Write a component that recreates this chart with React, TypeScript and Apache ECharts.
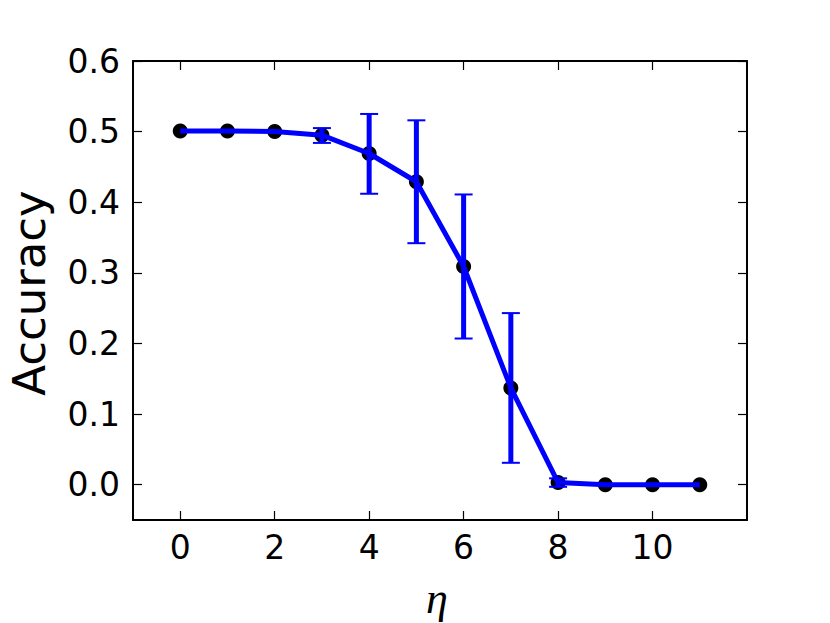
import React, { useEffect, useRef } from "react";
import * as echarts from "echarts";

const etaValues = [0, 1, 2, 3, 4, 5, 6, 7, 8, 9, 10, 11];
const accuracy = [0.501, 0.501, 0.5, 0.495, 0.469, 0.429, 0.309, 0.137, 0.003, 0.0, 0.0, 0.0];
const errLow = [0.501, 0.501, 0.5, 0.484, 0.412, 0.342, 0.207, 0.031, -0.003, 0.0, 0.0, 0.0];
const errHigh = [0.501, 0.501, 0.5, 0.505, 0.525, 0.516, 0.411, 0.243, 0.009, 0.0, 0.0, 0.0];
const xTicks = [0, 2, 4, 6, 8, 10];
const yTicks = [0, 0.1, 0.2, 0.3, 0.4, 0.5, 0.6];

const BLUE = "#0000ff";
const TICK_FONT = "'DejaVu Sans', sans-serif";

export default function App() {
  const ref = useRef<HTMLDivElement>(null);
  useEffect(() => {
    if (!ref.current) return;
    const chart = echarts.init(ref.current, null, { renderer: "svg" });
    const pts = etaValues.map((x, i) => [x, accuracy[i]]);
    const errData = etaValues
      .map((x, i) => [x, errLow[i], errHigh[i]])
      .filter((d) => d[2] - d[1] > 0.0001);
    const axisLine = { show: true, onZero: false, lineStyle: { color: "#000", width: 2 } };
    const tickStyle = { inside: true, length: 9, lineStyle: { color: "#000", width: 1.2 } };
    chart.setOption({
      animation: false,
      backgroundColor: "#fff",
      grid: { left: 133, right: 83, top: 61, bottom: 103, containLabel: false },
      xAxis: [
        {
          type: "value",
          min: -1,
          max: 12,
          position: "bottom",
          axisLine,
          axisTick: { show: true, ...tickStyle, customValues: xTicks },
          axisLabel: {
            show: true,
            customValues: xTicks,
            color: "#000",
            fontSize: 33,
            fontFamily: TICK_FONT,
            margin: 11,
          },
          splitLine: { show: false },
        },
        {
          type: "value",
          min: -1,
          max: 12,
          position: "top",
          axisLine,
          axisTick: { show: true, ...tickStyle, customValues: xTicks },
          axisLabel: { show: false },
          splitLine: { show: false },
        },
      ],
      yAxis: [
        {
          type: "value",
          min: -0.05,
          max: 0.6,
          position: "left",
          axisLine,
          axisTick: { show: true, ...tickStyle, customValues: yTicks },
          axisLabel: {
            show: true,
            customValues: yTicks,
            color: "#000",
            fontSize: 33,
            fontFamily: TICK_FONT,
            margin: 13,
            formatter: (v: number) => v.toFixed(1),
          },
          splitLine: { show: false },
        },
        {
          type: "value",
          min: -0.05,
          max: 0.6,
          position: "right",
          axisLine,
          axisTick: { show: true, ...tickStyle, customValues: yTicks },
          axisLabel: { show: false },
          splitLine: { show: false },
        },
      ],
      graphic: [
        {
          type: "text",
          x: 29,
          y: 293,
          rotation: Math.PI / 2,
          style: {
            text: "Accuracy",
            fontSize: 45,
            fontFamily: TICK_FONT,
            fill: "#000",
            align: "center",
            verticalAlign: "middle",
          },
        },
        {
          type: "text",
          x: 437,
          y: 598,
          style: {
            text: "η",
            fontSize: 44,
            fontStyle: "italic",
            fontFamily: "'Liberation Serif', serif",
            fill: "#000",
            align: "center",
            verticalAlign: "middle",
          },
        },
      ],
      series: [
        {
          type: "scatter",
          data: pts,
          symbol: "circle",
          symbolSize: 15,
          itemStyle: { color: "#000", opacity: 1 },
          z: 1,
        },
        {
          type: "line",
          data: pts,
          showSymbol: false,
          lineStyle: { color: BLUE, width: 5 },
          z: 2,
        },
        {
          type: "custom",
          z: 3,
          data: errData,
          renderItem: (params: any, api: any) => {
            const x = api.value(0);
            const lo = api.coord([x, api.value(1)]);
            const hi = api.coord([x, api.value(2)]);
            const hw = 9;
            return {
              type: "group",
              children: [
                {
                  type: "line",
                  shape: { x1: lo[0], y1: lo[1], x2: hi[0], y2: hi[1] },
                  style: { stroke: BLUE, lineWidth: 5 },
                },
                {
                  type: "line",
                  shape: { x1: hi[0] - hw, y1: hi[1], x2: hi[0] + hw, y2: hi[1] },
                  style: { stroke: BLUE, lineWidth: 2 },
                },
                {
                  type: "line",
                  shape: { x1: lo[0] - hw, y1: lo[1], x2: lo[0] + hw, y2: lo[1] },
                  style: { stroke: BLUE, lineWidth: 2 },
                },
              ],
            };
          },
        },
      ],
    });
    return () => chart.dispose();
  }, []);
  return <div ref={ref} style={{ width: 830, height: 623, position: "absolute", left: 0, top: 0 }} />;
}
